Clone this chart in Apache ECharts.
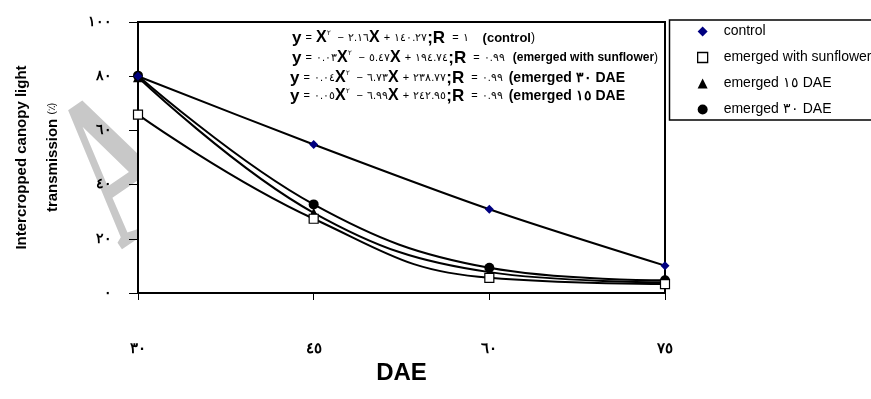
<!DOCTYPE html>
<html>
<head>
<meta charset="utf-8">
<script src="https://cdn.jsdelivr.net/npm/echarts@6/dist/echarts.min.js"></script>
<style>
  html, body { margin: 0; padding: 0; background: #fff; }
  #chart { width: 871px; height: 399px; }
</style>
</head>
<body>
<div id="chart"></div>
<script>
// DAE values on the x axis
const dae = [30, 45, 60, 75];

// light transmission (%)
const control = [80, 54.8, 30.9, 10.1];
const sunflower = [65.8, 27.4, 5.6, 3.3];
const emerged15 = [79.6, 29.6, 7.7, 4.0];
const emerged30 = [80.2, 32.7, 9.3, 4.7];

const seriesNames = ["control", "emerged with sunflower", "emerged ١٥ DAE", "emerged ٣٠ DAE"];

// trend line equations printed on the plot
const equations = [
  { a: "", b: "٢.١٦", c: "١٤٠.٢٧", r: "١", note: "(control", tag: "n1" },
  { a: "٠.٠٣", b: "٥.٤٧", c: "١٩٤.٧٤", r: "٠.٩٩", note: "(emerged with sunflower", tag: "n2" },
  { a: "٠.٠٤", b: "٦.٧٣", c: "٢٣٨.٧٧", r: "٠.٩٩", note: "(emerged ٣٠ DAE", tag: "n3" },
  { a: "٠.٠٥", b: "٦.٩٩", c: "٢٤٢.٩٥", r: "٠.٩٩", note: "(emerged ١٥ DAE", tag: "n3" }
];
const closing = [")", ")", "", ""];

const arDigits = "٠١٢٣٤٥٦٧٨٩";
const toAr = (v) => String(v).replace(/[0-9]/g, (d) => arDigits[d]);

const pairs = (ys) => dae.map((x, i) => [x, ys[i]]);

const sans = "'Liberation Sans', Arial, sans-serif";

const chart = echarts.init(document.getElementById("chart"));

const eqRich = {
  y: { fontFamily: sans, fontWeight: "bold", fontSize: 17, color: "#000" },
  x: { fontFamily: sans, fontWeight: "bold", fontSize: 16, color: "#000" },
  op: { fontFamily: sans, fontSize: 11, color: "#000", padding: [0, 4, 0, 4] },
  n: { fontFamily: sans, fontSize: 11, color: "#000", letterSpacing: 2.2 },
  sup: { fontFamily: sans, fontSize: 7, color: "#000", verticalAlign: "top", padding: [0, 3, 8, 0] },
  n1: { fontFamily: sans, fontWeight: "bold", fontSize: 13, color: "#000", letterSpacing: 0.6, padding: [0, 0, 0, 14] },
  n2: { fontFamily: sans, fontWeight: "bold", fontSize: 12, color: "#000", letterSpacing: -0.6, padding: [0, 0, 0, 8] },
  n3: { fontFamily: sans, fontWeight: "bold", fontSize: 14, color: "#000", letterSpacing: 1.1, padding: [0, 0, 0, 6] },
  cl: { fontFamily: sans, fontSize: 12, color: "#000" }
};

const eqText = (e, i) =>
  "{y|y}{op|=}" + (e.a ? "{n|" + e.a + "}" : "") + "{x|X}{sup|٢}{op|−}{n|" + e.b + "}{x|X}{op|+}{n|" + e.c +
  "}{y|;R}{op| =}{n|" + e.r + "}{" + e.tag + "|" + e.note + "}" + (closing[i] ? "{cl|" + closing[i] + "}" : "");

const eqPos = [[292, 38], [292, 58], [290, 78], [290, 96]];

const option = {
  animation: false,
  backgroundColor: "#fff",
  grid: {
    left: 138, right: 206, top: 22, bottom: 106,
    outerBoundsMode: "none", containLabel: false,
    show: true, backgroundColor: "#fff", borderColor: "#000", borderWidth: 2
  },
  legend: {
    orient: "vertical",
    left: 692,
    top: 19,
    itemWidth: 10,
    itemHeight: 10,
    itemGap: 11,
    textStyle: { fontFamily: sans, fontSize: 14, lineHeight: 15, color: "#000", letterSpacing: -0.2, padding: [0, 0, 0, 11] },
    data: [
      { name: seriesNames[0], icon: "diamond", itemStyle: { color: "#000080", borderWidth: 0 } },
      { name: seriesNames[1], icon: "rect", itemStyle: { color: "#fff", borderColor: "#000", borderWidth: 1.3 } },
      { name: seriesNames[2], icon: "triangle", itemStyle: { color: "#000", borderWidth: 0 } },
      { name: seriesNames[3], icon: "circle", itemStyle: { color: "#000", borderWidth: 0 } }
    ]
  },
  xAxis: {
    type: "value",
    min: 30, max: 75, interval: 15,
    name: "DAE",
    nameLocation: "middle",
    nameGap: 64,
    nameTextStyle: { fontFamily: sans, fontWeight: "bold", fontSize: 24, color: "#000", letterSpacing: -3 },
    axisLine: { lineStyle: { color: "#000", width: 2 } },
    axisTick: { show: true, length: 7, lineStyle: { color: "#000", width: 1 } },
    axisLabel: {
      margin: 48, fontFamily: sans, fontWeight: "bold", fontSize: 15, color: "#000", letterSpacing: 4,
      formatter: (v) => toAr(v)
    },
    splitLine: { show: false }
  },
  yAxis: {
    type: "value",
    min: 0, max: 100, interval: 20,
    name: "{b|Intercropped canopy light}\n{b|transmission }{p|(٪)}",
    nameLocation: "middle",
    nameGap: 70,
    nameRotate: 90,
    nameTextStyle: {
      lineHeight: 31,
      rich: {
        b: { fontFamily: sans, fontWeight: "bold", fontSize: 15, color: "#000", letterSpacing: -0.9, lineHeight: 31 },
        p: { fontFamily: sans, fontSize: 10, color: "#000", lineHeight: 31 }
      }
    },
    axisLine: { lineStyle: { color: "#000", width: 2 } },
    axisTick: { show: true, length: 9, lineStyle: { color: "#000", width: 1 } },
    axisLabel: {
      margin: 26, fontFamily: sans, fontWeight: "bold", fontSize: 14, color: "#000", letterSpacing: 4,
      formatter: (v) => toAr(v)
    },
    splitLine: { show: false }
  },
  graphic: [
    {
      type: "text", z: -10, x: 89, y: 203, rotation: 0.6, scaleX: 0.55,
      style: {
        text: "A", fontFamily: "'Liberation Serif', serif", fontWeight: "bold", fontSize: 220,
        fill: "#c8c8c8", textAlign: "left", textVerticalAlign: "middle"
      }
    },
    {
      type: "rect", z: 100,
      shape: { x: 669.5, y: 20, width: 230, height: 100 },
      style: { fill: "none", stroke: "#000", lineWidth: 1.5 }
    }
  ].concat(equations.map((e, i) => ({
    type: "text", z: 100, x: eqPos[i][0], y: eqPos[i][1],
    style: { text: eqText(e, i), rich: eqRich, textVerticalAlign: "middle" }
  }))),
  series: [
    {
      name: seriesNames[0], type: "line", smooth: 0.3, data: pairs(control),
      symbol: "diamond", symbolSize: 9,
      itemStyle: { color: "#000080" }, lineStyle: { color: "#000", width: 2 }, z: 5
    },
    {
      name: seriesNames[1], type: "line", smooth: 0.45, data: pairs(sunflower),
      symbol: "rect", symbolSize: 9,
      itemStyle: { color: "#fff", borderColor: "#000", borderWidth: 1.2 },
      lineStyle: { color: "#000", width: 2 }, z: 4
    },
    {
      name: seriesNames[2], type: "line", smooth: 0.4, data: pairs(emerged15),
      symbol: "triangle", symbolSize: 10,
      itemStyle: { color: "#000" }, lineStyle: { color: "#000", width: 2 }, z: 3
    },
    {
      name: seriesNames[3], type: "line", smooth: 0.4, data: pairs(emerged30),
      symbol: "circle", symbolSize: 10,
      itemStyle: { color: "#000" }, lineStyle: { color: "#000", width: 2 }, z: 2
    }
  ]
};

chart.setOption(option);
</script>
</body>
</html>
